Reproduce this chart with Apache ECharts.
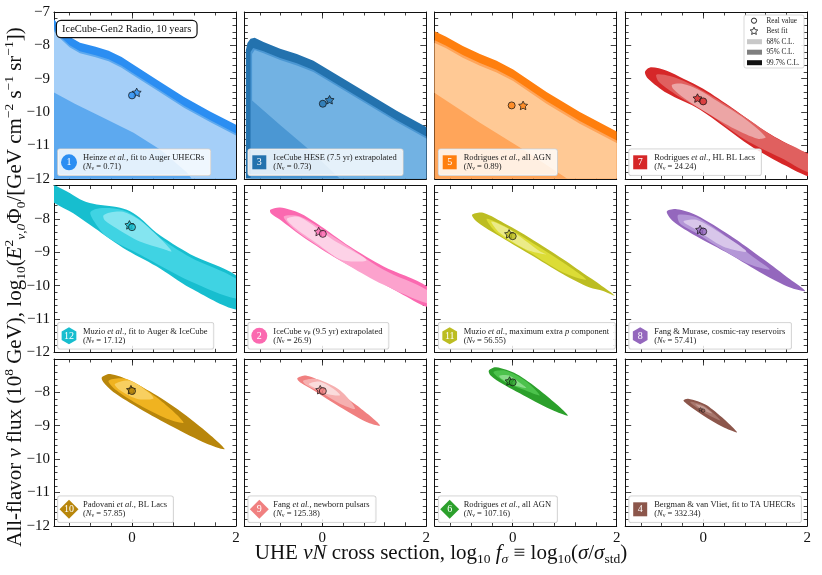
<!DOCTYPE html>
<html>
<head>
<meta charset="utf-8">
<script src="https://cdn.jsdelivr.net/npm/echarts@6/dist/echarts.min.js"></script>
<style>
html, body { margin: 0; padding: 0; background: #fff; }
#chart { width: 822px; height: 575px; }
</style>
</head>
<body>
<div id="chart"></div>
<script>
var FONT = 'Liberation Serif';

// axes
var xRange = [-1.5, 2];
var yRange = [-12, -7];
var xTicks = [-1.2, -0.8, -0.4, 0, 0.4, 0.8, 1.2, 1.6];
var xMajorTicks = [0];
var xTickLabels = [0, 2];

// panels, row by row
var panelIds = [1, 3, 5, 7, 12, 2, 11, 8, 10, 9, 6, 4];
var panelNames = [
    'Heinze {i|et al.}, fit to Auger UHECRs',
    'IceCube HESE (7.5 yr) extrapolated',
    'Rodrigues {i|et al.}, all AGN',
    'Rodrigues {i|et al.}, HL BL Lacs',
    'Muzio {i|et al.}, fit to Auger & IceCube',
    'IceCube {i|ν}{sub|μ} (9.5 yr) extrapolated',
    'Muzio {i|et al.}, maximum extra {i|p} component',
    'Fang & Murase, cosmic-ray reservoirs',
    'Padovani {i|et al.}, BL Lacs',
    'Fang {i|et al.}, newborn pulsars',
    'Rodrigues {i|et al.}, all AGN',
    'Bergman & van Vliet, fit to TA UHECRs'
];
var panelNr = ['0.71', '0.73', '0.89', '24.24', '17.12', '26.9', '56.55', '57.41', '57.85', '125.38', '107.16', '332.34'];
var panelIcons = ['circle', 'square', 'square', 'square', 'hexagon', 'circle', 'hexagon', 'hexagon', 'diamond', 'diamond', 'diamond', 'square'];

// contours [log10 f, log10 flux]: 99.7%, 95%, 68%
var heinze997 = [[-1.5,-7.22],[-1.35,-7.5],[-1.2,-7.74],[-1.0,-7.92],[-0.7,-8.04],[-0.45,-8.16],[-0.2,-8.35],[0,-8.55],[0.5,-9.05],[1.0,-9.55],[1.5,-9.98],[2,-10.38],[2,-12],[-1.5,-12]];
var heinze95 = [[-1.5,-7.52],[-1.35,-7.78],[-1.2,-8.0],[-1.0,-8.18],[-0.7,-8.3],[-0.45,-8.42],[-0.2,-8.61],[0,-8.81],[0.5,-9.31],[1.0,-9.81],[1.5,-10.24],[2,-10.64],[2,-12],[-1.5,-12]];
var heinze68 = [[-1.5,-7.58],[-1.35,-7.84],[-1.2,-8.06],[-1.0,-8.24],[-0.7,-8.36],[-0.45,-8.48],[-0.2,-8.67],[0,-8.87],[0.5,-9.37],[1.0,-9.87],[1.5,-10.3],[2,-10.7],[2,-12],[1.15,-12],[1.05,-11.8],[0.54,-11.12],[0.03,-10.62],[-0.62,-10.12],[-1.1,-9.75],[-1.5,-9.41]];

var hese997 = [[-1.47,-12],[-1.47,-8.15],[-1.44,-7.93],[-1.38,-7.8],[-1.3,-7.77],[-1.13,-7.9],[-0.81,-8.1],[-0.49,-8.26],[-0.17,-8.46],[0.15,-8.76],[0.79,-9.36],[1.43,-9.96],[2,-10.45],[2,-12]];
var hese95 = [[-1.38,-12],[-1.38,-8.2],[-1.33,-8.08],[-1.13,-8.18],[-0.81,-8.38],[-0.49,-8.54],[-0.17,-8.74],[0.15,-9.04],[0.79,-9.64],[1.43,-10.24],[2,-10.73],[2,-12]];
var hese68 = [[-1.35,-9.65],[-1.35,-8.26],[-1.3,-8.14],[-1.13,-8.24],[-0.81,-8.44],[-0.49,-8.6],[-0.17,-8.8],[0.15,-9.1],[0.79,-9.7],[1.43,-10.3],[2,-10.79],[2,-12],[0.34,-12],[-0.2,-11.2],[-0.8,-10.4]];

var agn997 = [[-1.5,-7.58],[-1.28,-7.74],[-0.96,-8.02],[-0.63,-8.26],[-0.31,-8.46],[0.01,-8.72],[0.65,-9.4],[1.29,-10.0],[2,-10.58],[2,-12],[-1.5,-12]];
var agn95 = [[-1.5,-7.85],[-1.28,-8.01],[-0.96,-8.29],[-0.63,-8.53],[-0.31,-8.73],[0.01,-8.99],[0.65,-9.67],[1.29,-10.27],[2,-10.85],[2,-12],[-1.5,-12]];
var agn68 = [[-1.5,-7.93],[-1.28,-8.09],[-0.96,-8.37],[-0.63,-8.61],[-0.31,-8.81],[0.01,-9.07],[0.65,-9.75],[1.29,-10.35],[2,-10.93],[2,-12],[1.05,-12],[0.2,-11.12],[-0.63,-10.32],[-1.5,-9.43]];

var hlbl997 = [[-1.12,-8.8],[-1.02,-8.66],[-0.7,-8.76],[-0.38,-9.0],[0,-9.3],[0.58,-9.9],[1.22,-10.6],[1.86,-11.15],[2.08,-11.3],[2.08,-11.92],[1.6,-11.62],[0.9,-11.0],[-0.06,-9.93],[-0.7,-9.43],[-1.06,-9.0]];
var hlbl95 = [[-0.9,-8.88],[-0.64,-8.92],[-0.3,-9.12],[0.2,-9.55],[0.8,-10.15],[1.4,-10.78],[2.08,-11.35],[2.08,-11.82],[1.5,-11.38],[0.8,-10.82],[0.1,-10.05],[-0.5,-9.5],[-0.85,-9.1]];
var hlbl68 = [[-0.6,-9.18],[-0.4,-9.15],[-0.1,-9.32],[0.3,-9.7],[0.8,-10.2],[1.2,-10.75],[1.05,-10.8],[0.6,-10.5],[0.1,-10.05],[-0.35,-9.6],[-0.58,-9.3]];

var muzioA997 = [[-1.6,-6.9],[-1.48,-6.99],[-1.19,-7.23],[-0.94,-7.46],[-0.68,-7.57],[-0.36,-7.63],[-0.1,-7.73],[0.15,-7.97],[0.47,-8.42],[1.12,-9.06],[2.08,-9.8],[2.08,-10.72],[1.12,-10.07],[0.47,-9.42],[-0.17,-8.87],[-0.81,-8.18],[-1.13,-7.83],[-1.6,-7.38]];
var muzioA95 = [[-0.8,-7.8],[-0.62,-7.68],[-0.17,-7.74],[0.15,-8.02],[0.47,-8.5],[1.12,-9.15],[2.08,-9.88],[2.08,-10.4],[1.12,-9.87],[0.15,-9.07],[-0.49,-8.53],[-0.74,-8.05]];
var muzioA68 = [[-0.55,-7.9],[-0.4,-7.8],[-0.17,-7.79],[0.15,-8.04],[0.45,-8.45],[0.76,-8.97],[0.6,-8.9],[0.15,-8.68],[-0.3,-8.28],[-0.52,-8.05]];

var numu997 = [[-1.0,-7.73],[-0.81,-7.66],[-0.43,-7.83],[-0.11,-8.13],[0.53,-8.83],[1.17,-9.42],[2.08,-10.1],[2.08,-10.65],[1.49,-10.22],[0.85,-9.67],[0.21,-9.13],[-0.43,-8.48],[-0.81,-8.03],[-0.99,-7.83]];
var numu95 = [[-0.74,-7.93],[-0.43,-7.93],[0.21,-8.53],[1.17,-9.52],[2.08,-10.2],[2.08,-10.55],[1.17,-9.97],[0.53,-9.42],[-0.11,-8.78],[-0.56,-8.28]];
var numu68 = [[-0.68,-8.0],[-0.43,-7.95],[0.21,-8.63],[0.85,-9.23],[0.38,-9.23],[-0.11,-8.73],[-0.56,-8.23]];

var muzioP997 = [[-0.78,-7.88],[-0.57,-7.82],[-0.12,-8.17],[0.33,-8.57],[0.97,-9.21],[1.48,-9.76],[1.67,-9.96],[1.96,-10.3],[1.74,-10.16],[1.48,-10.06],[0.97,-9.66],[0.33,-9.06],[-0.31,-8.47],[-0.7,-8.07]];
var muzioP95 = [[-0.5,-8.0],[-0.12,-8.25],[0.33,-8.67],[0.97,-9.31],[1.41,-9.82],[0.97,-9.61],[0.33,-9.01],[-0.31,-8.42]];
var muzioP68 = [[-0.41,-8.08],[-0.06,-8.32],[0.52,-8.97],[0.65,-9.07],[0.26,-8.92],[-0.25,-8.42]];

var fangM997 = [[-0.7,-7.78],[-0.51,-7.71],[-0.13,-7.89],[0.51,-8.49],[1.16,-9.21],[1.67,-9.81],[1.96,-10.16],[1.67,-10.06],[1.16,-9.66],[0.51,-9.06],[-0.13,-8.52],[-0.58,-8.07]];
var fangM95 = [[-0.48,-7.88],[-0.13,-7.95],[0.51,-8.6],[1.03,-9.22],[1.28,-9.52],[0.9,-9.37],[0.38,-8.93],[-0.13,-8.43],[-0.45,-8.13]];
var fangM68 = [[-0.38,-8.08],[-0.13,-8.03],[0.38,-8.48],[0.83,-8.98],[0.38,-8.83],[-0.13,-8.33]];

var padovani997 = [[-0.58,-7.55],[-0.42,-7.45],[-0.04,-7.65],[0.47,-8.09],[1.12,-8.79],[1.78,-9.69],[1.44,-9.54],[0.79,-9.04],[0.15,-8.49],[-0.36,-7.99],[-0.55,-7.7]];
var padovani95 = [[-0.45,-7.65],[-0.1,-7.6],[0.47,-8.15],[0.99,-8.9],[0.67,-8.79],[0.15,-8.39],[-0.3,-7.94]];
var padovani68 = [[-0.33,-7.75],[-0.04,-7.65],[0.35,-8.04],[0.41,-8.19],[0.09,-8.19],[-0.23,-7.94]];

var pulsar997 = [[-0.48,-7.58],[-0.3,-7.5],[0.08,-7.75],[0.66,-8.39],[1.11,-8.99],[0.85,-8.89],[0.34,-8.44],[-0.17,-7.94],[-0.43,-7.7]];
var pulsar95 = [[-0.37,-7.65],[-0.11,-7.6],[0.34,-7.94],[0.63,-8.49],[0.34,-8.34],[-0.04,-7.99],[-0.3,-7.79]];
var pulsar68 = [[-0.26,-7.75],[-0.04,-7.68],[0.22,-7.9],[0.34,-8.09],[0.08,-8.04],[-0.14,-7.87]];

var agnB997 = [[-0.46,-7.35],[-0.32,-7.25],[0.07,-7.45],[0.52,-7.94],[1.06,-8.69],[0.77,-8.54],[0.33,-8.19],[-0.19,-7.75],[-0.42,-7.5]];
var agnB95 = [[-0.37,-7.4],[-0.14,-7.35],[0.24,-7.65],[0.52,-8.09],[0.24,-7.94],[-0.14,-7.7]];
var agnB68 = [[-0.26,-7.5],[-0.06,-7.5],[0.17,-7.75],[0.26,-7.87],[0.03,-7.79],[-0.2,-7.61]];

var bergman997 = [[-0.38,-8.24],[-0.29,-8.19],[0.07,-8.39],[0.65,-9.19],[0.38,-9.04],[0.0,-8.69],[-0.32,-8.34]];
var bergman95 = [[-0.25,-8.29],[0.0,-8.39],[0.33,-8.84],[0.0,-8.59]];
var bergman68 = [[-0.15,-8.36],[0.0,-8.42],[0.17,-8.63],[0.0,-8.54]];

var realValues = [[0,-9.5],[0.01,-9.75],[-0.02,-9.8],[0,-9.68],[0,-8.25],[0.01,-8.45],[0,-8.52],[0,-8.38],[0,-7.96],[0.01,-7.96],[0,-7.7],[0,-8.55]];
var bestFits = [[0.09,-9.41],[0.14,-9.63],[0.2,-9.8],[-0.11,-9.58],[-0.05,-8.18],[-0.07,-8.38],[-0.07,-8.45],[-0.06,-8.32],[-0.02,-7.92],[-0.04,-7.92],[-0.06,-7.66],[-0.05,-8.51]];

var contours = [
    [heinze997, heinze95, heinze68], [hese997, hese95, hese68], [agn997, agn95, agn68], [hlbl997, hlbl95, hlbl68],
    [muzioA997, muzioA95, muzioA68], [numu997, numu95, numu68], [muzioP997, muzioP95, muzioP68], [fangM997, fangM95, fangM68],
    [padovani997, padovani95, padovani68], [pulsar997, pulsar95, pulsar68], [agnB997, agnB95, agnB68], [bergman997, bergman95, bergman68]
];

// styles
var palette = [
    ['#2b8ef2', '#5da9ef', '#a5cff8'], ['#2372ae', '#4b97d3', '#72b2e3'], ['#ff7f0e', '#ffa55a', '#ffc995'], ['#d62728', '#e0605f', '#eca5a5'],
    ['#17becf', '#3fd3e3', '#84e5f0'], ['#fb69b0', '#fca2cd', '#fdd2e7'], ['#bcbd22', '#dcdc36', '#ebeb88'], ['#9467bd', '#b497d7', '#d8c6ea'],
    ['#b8860b', '#f0b320', '#f8cf60'], ['#f08080', '#f6b0b0', '#fadcdc'], ['#2ca02c', '#4cc24c', '#88dc88'], ['#8c564b', '#a8776d', '#c59d95']
];
var colLeft = [54, 244.3, 434.7, 625.2];
var rowTop = [12, 185.5, 359];
var panelW = 182, panelH = 166.8;
var starPath = 'path://M0,-10L2.94,-4.05L9.51,-3.09L4.76,1.55L5.88,8.09L0,5L-5.88,8.09L-4.76,1.55L-9.51,-3.09L-2.94,-4.05Z';

var chart = echarts.init(document.getElementById('chart'));

var grids = [], xAxes = [], yAxes = [], series = [], graphics = [];
var lineStyle = { color: '#111', width: 1 };
var tickLine = { color: '#111', width: 0.8 };

function xAxis(i, pos, ticks, len, showLine, showLabel) {
    return {
        gridIndex: i, type: 'value', position: pos, min: xRange[0], max: xRange[1],
        axisLine: { show: showLine, onZero: false, lineStyle: lineStyle },
        axisTick: { show: true, inside: true, length: len, customValues: ticks, lineStyle: tickLine },
        axisLabel: { show: showLabel, customValues: xTickLabels, fontFamily: FONT, fontSize: 15, color: '#111', margin: 5 },
        splitLine: { show: false }
    };
}

function yAxis(i, pos, showLabel, row) {
    return {
        gridIndex: i, type: 'value', position: pos, min: yRange[0], max: yRange[1], interval: 1,
        axisLine: { show: true, onZero: false, lineStyle: lineStyle },
        axisTick: { show: true, inside: true, length: 6, lineStyle: tickLine },
        minorTick: { show: true, splitNumber: 5, length: 3.5, lineStyle: tickLine },
        axisLabel: {
            show: showLabel, fontFamily: FONT, fontSize: 15, color: '#111', margin: 4,
            formatter: function (v) {
                if (v === -7 && row > 0) return '';
                return '\u2212' + Math.abs(v);
            }
        },
        splitLine: { show: false }, minorSplitLine: { show: false }
    };
}

function contourSeries(i, poly, color, smooth, z) {
    return {
        type: 'custom', xAxisIndex: i * 4, yAxisIndex: i * 2, clip: true, silent: true, z: z,
        data: poly, encode: { x: 0, y: 1 },
        renderItem: function (params, api) {
            if (params.dataIndex !== 0) return null;
            var pts = poly.map(function (p) { return api.coord(p); });
            return { type: 'polygon', shape: { points: pts, smooth: smooth }, style: { fill: color } };
        }
    };
}

function iconElement(kind, cx, cy, color) {
    if (kind === 'circle') return { type: 'circle', z: 100, shape: { cx: cx, cy: cy, r: 8 }, style: { fill: color } };
    if (kind === 'square') return { type: 'rect', z: 100, shape: { x: cx - 7, y: cy - 7, width: 14, height: 14 }, style: { fill: color } };
    var n = kind === 'hexagon' ? 6 : 4, rad = kind === 'hexagon' ? 8.5 : 9.5, pts = [];
    for (var k = 0; k < n; k++) {
        var a = Math.PI / 2 + k * 2 * Math.PI / n;
        pts.push([cx + rad * Math.cos(a), cy - rad * Math.sin(a)]);
    }
    return { type: 'polygon', z: 100, shape: { points: pts }, style: { fill: color } };
}

function starPoints(cx, cy, R, r) {
    var pts = [];
    for (var k = 0; k < 10; k++) {
        var a = Math.PI / 2 + k * Math.PI / 5, rr = k % 2 ? r : R;
        pts.push([cx + rr * Math.cos(a), cy - rr * Math.sin(a)]);
    }
    return pts;
}

var smallRich = {
    i: { fontStyle: 'italic', fontSize: 8.5, fontFamily: FONT, lineHeight: 9, fill: '#222' },
    sub: { fontSize: 6, fontFamily: FONT, verticalAlign: 'bottom', lineHeight: 9, fill: '#222' }
};

for (var i = 0; i < 12; i++) {
    var r = Math.floor(i / 4), c = i % 4;
    var L = colLeft[c], T = rowTop[r], B = T + panelH;
    grids.push({ left: L, top: T, width: panelW, height: panelH });
    xAxes.push(xAxis(i, 'bottom', xTicks, 3.5, true, r === 2));
    xAxes.push(xAxis(i, 'bottom', xMajorTicks, 6.5, false, false));
    xAxes.push(xAxis(i, 'top', xTicks, 3.5, true, false));
    xAxes.push(xAxis(i, 'top', xMajorTicks, 6.5, false, false));
    yAxes.push(yAxis(i, 'left', c === 0, r));
    yAxes.push(yAxis(i, 'right', false, r));

    var smooth = i < 3 ? 0 : 0.3;
    for (var lv = 0; lv < 3; lv++) {
        series.push(contourSeries(i, contours[i][lv], palette[i][lv], smooth, 2 + lv));
    }
    var small = i === 11;
    series.push({
        type: 'scatter', xAxisIndex: i * 4, yAxisIndex: i * 2, silent: true, z: 10,
        data: [bestFits[i]], symbol: starPath, symbolKeepAspect: true, symbolSize: small ? 4 : 9,
        itemStyle: { color: palette[i][0], borderColor: '#111', borderWidth: small ? 0.6 : 0.9 }
    });
    series.push({
        type: 'scatter', xAxisIndex: i * 4, yAxisIndex: i * 2, silent: true, z: 11,
        data: [realValues[i]], symbol: 'circle', symbolSize: small ? 3.5 : 7,
        itemStyle: { color: palette[i][0], borderColor: '#111', borderWidth: small ? 0.6 : 0.9 }
    });

    // panel legend box
    graphics.push({
        type: 'text', x: L + 4, y: B - 3.5, z: 99,
        style: {
            text: panelNames[i] + '\n({i|N}{sub|\u03bd} = ' + panelNr[i] + ')',
            rich: smallRich, fontSize: 8.5, fontFamily: FONT, fill: '#222', lineHeight: 9,
            align: 'left', verticalAlign: 'bottom', textAlign: 'left', textVerticalAlign: 'bottom',
            backgroundColor: 'rgba(255,255,255,0.82)', borderColor: '#cfcfcf', borderWidth: 0.8, borderRadius: 2,
            padding: [4, 6, 4, 25]
        }
    });
    var cx = L + 15, cy = B - 16.5;
    graphics.push(iconElement(panelIcons[i], cx, cy, palette[i][0]));
    graphics.push({
        type: 'text', x: cx, y: cy + 0.5, z: 101,
        style: { text: String(panelIds[i]), fill: '#fff', fontSize: 10, fontFamily: FONT, align: 'center', verticalAlign: 'middle', textAlign: 'center', textVerticalAlign: 'middle' }
    });
}

// experiment label
graphics.push({
    type: 'text', x: colLeft[0] + 3, y: rowTop[0] + 9, z: 99,
    style: {
        text: 'IceCube-Gen2 Radio, 10 years', fontSize: 10.5, fontFamily: FONT, fill: '#111',
        backgroundColor: '#fff', borderColor: '#111', borderWidth: 1.2, borderRadius: 4, padding: [3, 5, 2, 5]
    }
});

// marker / C.L. legend in the top-right panel
var lgX = 744, lgY = 15;
var lgLabels = ['Real value', 'Best fit', '68% C.L.', '95% C.L.', '99.7% C.L.'];
var lgGreys = ['#c8c8c8', '#7f7f7f', '#111'];
graphics.push({ type: 'rect', z: 99, shape: { x: lgX, y: lgY, width: 60, height: 53, r: 2 }, style: { fill: 'rgba(255,255,255,0.9)', stroke: '#cfcfcf', lineWidth: 0.8 } });
for (var k = 0; k < 5; k++) {
    var ly = lgY + 5.7 + k * 10.5;
    if (k === 0) graphics.push({ type: 'circle', z: 100, shape: { cx: lgX + 10, cy: ly, r: 2.6 }, style: { fill: '#fff', stroke: '#111', lineWidth: 0.9 } });
    else if (k === 1) graphics.push({ type: 'polygon', z: 100, shape: { points: starPoints(lgX + 10, ly, 4, 1.9) }, style: { fill: '#fff', stroke: '#111', lineWidth: 0.8 } });
    else graphics.push({ type: 'rect', z: 100, shape: { x: lgX + 3, y: ly - 2.5, width: 15, height: 5 }, style: { fill: lgGreys[k - 2] } });
    graphics.push({ type: 'text', x: lgX + 22.5, y: ly, z: 100, style: { text: lgLabels[k], fontSize: 7.2, fontFamily: FONT, fill: '#222', align: 'left', verticalAlign: 'middle', textAlign: 'left', textVerticalAlign: 'middle' } });
}

// axis titles
var titleRich = {
    i: { fontStyle: 'italic', fontSize: 21, fontFamily: FONT, fill: '#111', lineHeight: 26 },
    sup: { fontSize: 13.5, fontFamily: FONT, verticalAlign: 'top', fill: '#111' },
    sub: { fontSize: 13.5, fontFamily: FONT, verticalAlign: 'bottom', fill: '#111' },
    subi: { fontSize: 13.5, fontFamily: FONT, fontStyle: 'italic', verticalAlign: 'bottom', fill: '#111' }
};
graphics.push({
    type: 'text', x: 441, y: 553, z: 100,
    style: {
        text: 'UHE {i|\u03bdN} cross section, log{sub|10} {i|f}{subi|\u03c3} \u2261 log{sub|10}({i|\u03c3}/{i|\u03c3}{sub|std})',
        rich: titleRich, fontSize: 21, fontFamily: FONT, fill: '#111', lineHeight: 26,
        align: 'center', verticalAlign: 'middle', textAlign: 'center', textVerticalAlign: 'middle'
    }
});
graphics.push({
    type: 'text', x: 15, y: 287, rotation: Math.PI / 2, z: 100,
    style: {
        text: 'All-flavor {i|\u03bd} flux (10{sup|8} GeV), log{sub|10}({i|E}{sup|2}{subi|\u03bd,0}\u03a6{sub|0}/[GeV cm{sup|\u22122} s{sup|\u22121} sr{sup|\u22121}])',
        rich: titleRich, fontSize: 21, fontFamily: FONT, fill: '#111', lineHeight: 26,
        align: 'center', verticalAlign: 'middle', textAlign: 'center', textVerticalAlign: 'middle'
    }
});

chart.setOption({
    animation: false,
    grid: grids,
    xAxis: xAxes,
    yAxis: yAxes,
    series: series,
    graphic: { elements: graphics }
});
</script>
</body>
</html>
